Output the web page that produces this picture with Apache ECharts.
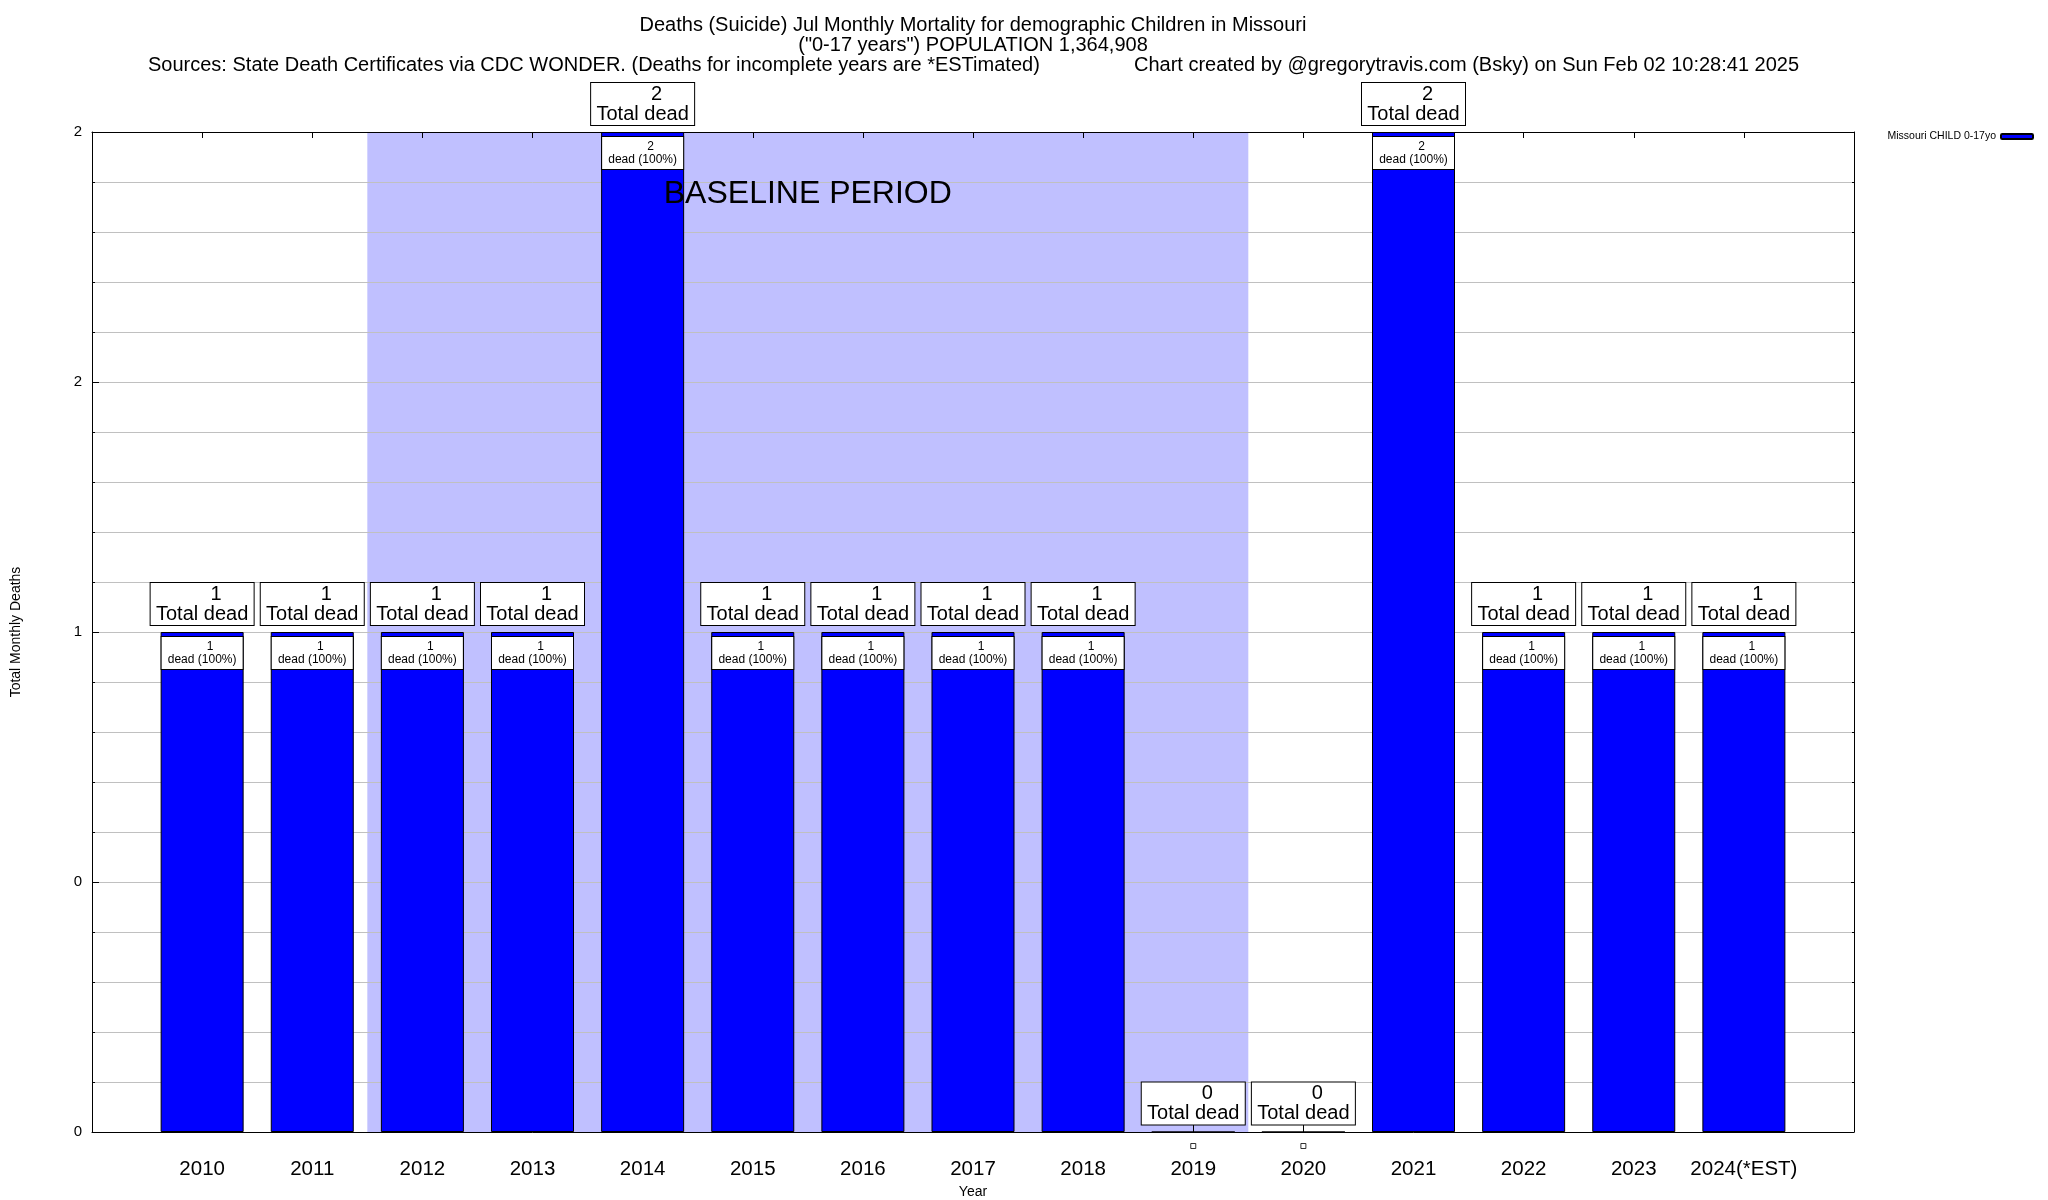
<!DOCTYPE html>
<html>
<head>
<meta charset="utf-8">
<script src="https://cdn.jsdelivr.net/npm/echarts@6/dist/echarts.min.js"></script>
<style>
html,body{margin:0;padding:0;background:#fff;}
#c{width:2048px;height:1200px;}
</style>
</head>
<body>
<div id="c"></div>
<script>
// ---- data ----
const years = [2010, 2011, 2012, 2013, 2014, 2015, 2016, 2017, 2018, 2019, 2020, 2021, 2022, 2023, 2024];
const xTickLabels = ['2010', '2011', '2012', '2013', '2014', '2015', '2016', '2017', '2018', '2019', '2020', '2021', '2022', '2023', '2024(*EST)'];
const deaths = [1, 1, 1, 1, 2, 1, 1, 1, 1, 0, 0, 2, 1, 1, 1];
const sharePct = [100, 100, 100, 100, 100, 100, 100, 100, 100, 0, 0, 100, 100, 100, 100];
const yTickLabels = ['0', '0', '1', '2', '2'];
const baselineStart = 2011.5;
const baselineEnd = 2019.5;
const seriesName = 'Missouri CHILD 0-17yo';
const titleLine1 = 'Deaths (Suicide) Jul Monthly Mortality for demographic Children in Missouri';
const titleLine2 = '("0-17 years") POPULATION 1,364,908';
const titleLine3a = 'Sources: State Death Certificates via CDC WONDER. (Deaths for incomplete years are *ESTimated)';
const titleLine3b = 'Chart created by @gregorytravis.com (Bsky) on Sun Feb 02 10:28:41 2025';

const FONT = '"Liberation Sans", Arial, Helvetica, sans-serif';
const chart = echarts.init(document.getElementById('c'), null, {renderer: 'canvas'});

const barData = years.map((y, i) => [y, deaths[i]]);
const innerData = years.map((y, i) => deaths[i] === 0
  ? {value: [y, deaths[i]], label: {show: false}}
  : {value: [y, deaths[i]], pct: sharePct[i]});
const zeroData = years.map((y, i) => [y, deaths[i]]).filter(d => d[1] === 0);

const option = {
  animation: false,
  textStyle: {fontFamily: FONT, color: '#000'},
  grid: {left: 92, right: 194, top: 132, bottom: 68, containLabel: false, outerBoundsMode: 'none'},
  graphic: [
    {type: 'text', z: 10, style: {x: 973, y: 25, text: titleLine1, font: '20px ' + FONT, fill: '#000', align: 'center', verticalAlign: 'middle'}},
    {type: 'text', z: 10, style: {x: 973, y: 45, text: titleLine2, font: '20px ' + FONT, fill: '#000', align: 'center', verticalAlign: 'middle'}},
    {type: 'text', z: 10, style: {x: 148, y: 65, text: titleLine3a, font: '20px ' + FONT, fill: '#000', align: 'left', verticalAlign: 'middle'}},
    {type: 'text', z: 10, style: {x: 1134, y: 65, text: titleLine3b, font: '20px ' + FONT, fill: '#000', align: 'left', verticalAlign: 'middle'}}
  ],
  legend: {
    data: [seriesName],
    right: 14, top: 131,
    align: 'right',
    itemWidth: 32, itemHeight: 5,
    textStyle: {fontSize: 10.5, color: '#000', fontFamily: FONT},
    padding: 0
  },
  xAxis: [
    {
      type: 'value', min: 2009, max: 2025, interval: 1, position: 'bottom', z: 1,
      axisLine: {show: true, onZero: false, lineStyle: {color: '#000', width: 1}},
      axisTick: {show: true, inside: true, length: 7, lineStyle: {color: '#000'}},
      axisLabel: {
        fontSize: 20.5, color: '#000', margin: 27, fontFamily: FONT,
        formatter: v => { const i = years.indexOf(Math.round(v)); return i < 0 ? '' : xTickLabels[i]; }
      },
      splitLine: {show: false},
      name: 'Year', nameLocation: 'middle', nameGap: 47,
      nameTextStyle: {fontSize: 14, color: '#000', fontFamily: FONT}
    },
    {
      type: 'value', min: 2009, max: 2025, interval: 1, position: 'top', z: 1,
      axisLine: {show: true, onZero: false, lineStyle: {color: '#000', width: 1}},
      axisTick: {show: true, inside: true, length: 6, lineStyle: {color: '#000'}},
      axisLabel: {show: false},
      splitLine: {show: false}
    }
  ],
  yAxis: [
    {
      type: 'value', min: 0, max: 2, interval: 0.5, position: 'left', z: 1,
      axisLine: {show: true, onZero: false, lineStyle: {color: '#000', width: 1}},
      axisTick: {show: true, inside: true, length: 7, lineStyle: {color: '#000'}},
      minorTick: {show: true, splitNumber: 5, length: 3, lineStyle: {color: '#000'}},
      axisLabel: {
        fontSize: 15, color: '#000', margin: 10, fontFamily: FONT,
        formatter: v => yTickLabels[Math.round(v / 0.5)]
      },
      splitLine: {show: true, lineStyle: {color: '#c0c0c0', width: 1}},
      minorSplitLine: {show: true, lineStyle: {color: '#c0c0c0', width: 1}},
      name: 'Total Monthly Deaths', nameLocation: 'middle', nameGap: 69, nameRotate: 90,
      nameTextStyle: {fontSize: 14, color: '#000', fontFamily: FONT}
    },
    {
      type: 'value', min: 0, max: 2, interval: 0.5, position: 'right', z: 1,
      axisLine: {show: true, onZero: false, lineStyle: {color: '#000', width: 1}},
      axisTick: {show: true, inside: true, length: 3, lineStyle: {color: '#000'}},
      minorTick: {show: true, splitNumber: 5, length: 2, lineStyle: {color: '#000'}},
      axisLabel: {show: false},
      splitLine: {show: false}
    }
  ],
  series: [
    {
      name: 'baseline-shade', type: 'line', data: [], z: 0, silent: true,
      xAxisIndex: 0, yAxisIndex: 0,
      markArea: {
        silent: true, z: 0,
        itemStyle: {color: '#c0c0ff'},
        label: {show: false},
        data: [[{xAxis: baselineStart}, {xAxis: baselineEnd}]]
      }
    },
    {
      name: seriesName, type: 'bar', z: 2,
      xAxisIndex: 0, yAxisIndex: 0,
      data: barData,
      barWidth: 83,
      barGap: '-100%',
      itemStyle: {color: '#0000ff', borderColor: '#000', borderWidth: 1},
      label: {
        show: true, position: 'top', distance: 7,
        backgroundColor: '#fff', borderColor: '#000', borderWidth: 1,
        padding: [1, 4, 1, 4], width: 95, align: 'center',
        formatter: p => '{n|' + p.value[1] + '}\n{t|Total dead}',
        rich: {
          n: {fontSize: 20, lineHeight: 20, color: '#000', fontFamily: FONT, padding: [0, 0, 0, 28]},
          t: {fontSize: 20, lineHeight: 20, color: '#000', fontFamily: FONT}
        }
      }
    },
    {
      name: 'inner', type: 'bar', z: 3,
      xAxisIndex: 0, yAxisIndex: 0,
      data: innerData,
      barWidth: 83,
      barGap: '-100%',
      itemStyle: {color: 'rgba(0,0,0,0)', borderWidth: 0},
      label: {
        show: true, position: 'insideTop', distance: 5,
        backgroundColor: '#fff', borderColor: '#000', borderWidth: 1,
        padding: [3, 2, 3, 2], width: 77, align: 'center',
        formatter: p => '{n|' + p.value[1] + '}\n{t|dead (' + p.data.pct + '%)}',
        rich: {
          n: {fontSize: 12, lineHeight: 13, color: '#000', fontFamily: FONT, padding: [0, 0, 0, 16]},
          t: {fontSize: 12, lineHeight: 13, color: '#000', fontFamily: FONT}
        }
      }
    },
    {
      name: 'zero-marker', type: 'scatter', z: 3, clip: false,
      xAxisIndex: 0, yAxisIndex: 0,
      data: zeroData,
      symbol: 'rect', symbolSize: 5, symbolOffset: [0, 14],
      itemStyle: {color: '#fff', borderColor: '#000', borderWidth: 1}
    },
    {
      name: 'baseline-label', type: 'line', data: [], z: 10, silent: true,
      xAxisIndex: 0, yAxisIndex: 0,
      markArea: {
        silent: true, z: 10,
        itemStyle: {color: 'rgba(0,0,0,0)'},
        label: {
          show: true, position: 'insideTop', distance: 46,
          fontSize: 32, lineHeight: 32, color: '#000', fontFamily: FONT,
          formatter: 'BASELINE PERIOD'
        },
        data: [[{xAxis: baselineStart}, {xAxis: baselineEnd}]]
      }
    }
  ]
};
chart.setOption(option);
</script>
</body>
</html>
